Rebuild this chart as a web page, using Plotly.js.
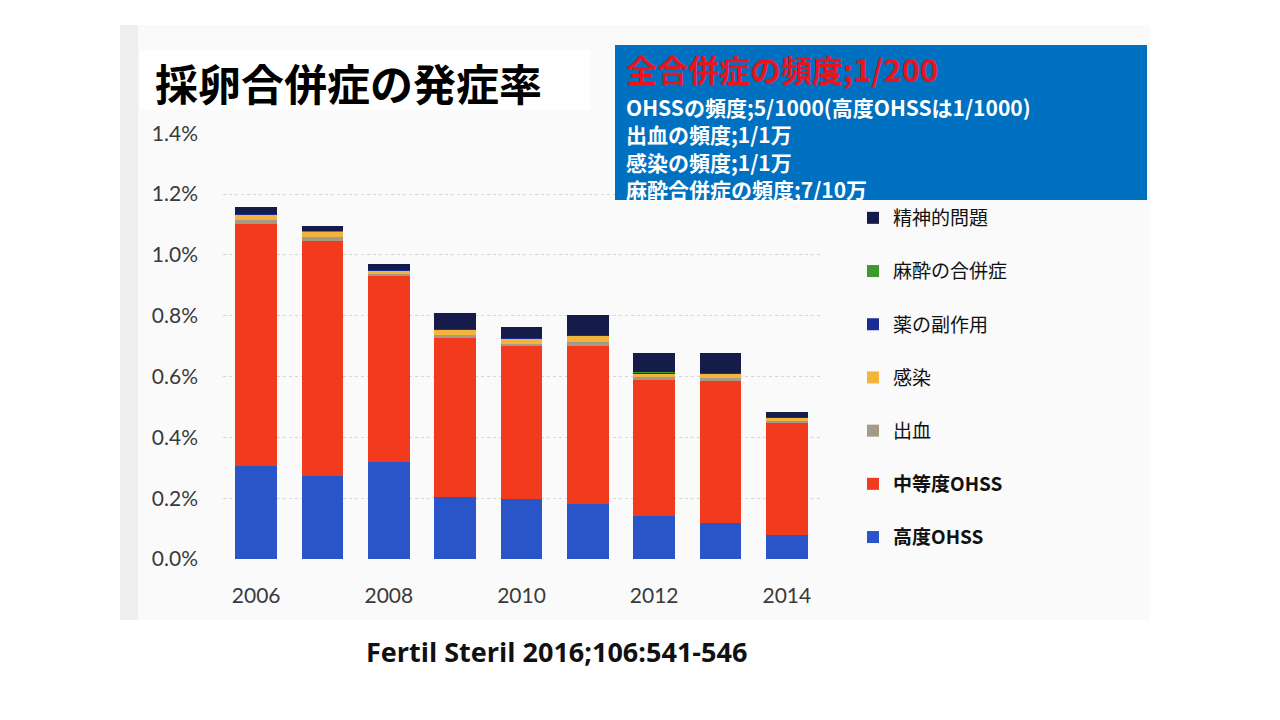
<!DOCTYPE html>
<html>
<head>
<meta charset="utf-8">
<script src="https://cdn.plot.ly/plotly-3.0.1.min.js"></script>
<style>html,body{margin:0;padding:0;background:#fff;}#chart{width:1280px;height:720px;}</style>
</head>
<body>
<div id="chart"></div>
<script>
// Data (percent of retrievals)
const years = [2006, 2007, 2008, 2009, 2010, 2011, 2012, 2013, 2014];
const severeOHSS   = [0.305, 0.273, 0.319, 0.204, 0.197, 0.181, 0.141, 0.118, 0.079];
const moderateOHSS = [0.797, 0.773, 0.611, 0.523, 0.503, 0.519, 0.448, 0.467, 0.368];
const bleeding     = [0.013, 0.013, 0.007, 0.010, 0.008, 0.013, 0.010, 0.010, 0.007];
const infection    = [0.015, 0.016, 0.010, 0.016, 0.016, 0.020, 0.010, 0.013, 0.010];
const drugEffects  = [0.003, 0.002, 0.002, 0.003, 0.002, 0.003, 0.003, 0.003, 0.002];
const anesthesia   = [0.002, 0.002, 0.001, 0.002, 0.002, 0.002, 0.002, 0.002, 0.001];
const psychiatric  = [0.023, 0.016, 0.020, 0.051, 0.035, 0.065, 0.064, 0.065, 0.017];
const seriesNames = ['<b>高度OHSS</b>', '<b>中等度OHSS</b>', '出血', '感染', '薬の副作用', '麻酔の合併症', '精神的問題'];
const seriesValues = [severeOHSS, moderateOHSS, bleeding, infection, drugEffects, anesthesia, psychiatric];
const seriesColors = ['#2a55c8', '#f23a1c', '#a69a86', '#f2b43c', '#1c2a96', '#3c9a2c', '#151c4a'];
const tickYears = [2006, 2008, 2010, 2012, 2014];
const yTicks = [0, 0.2, 0.4, 0.6, 0.8, 1.0, 1.2, 1.4];
const yTickText = yTicks.map(v => v.toFixed(1) + '%');
const summaryHeadline = '全合併症の頻度;1/200';
const summaryLines = ['OHSSの頻度;5/1000(高度OHSSは1/1000)', '出血の頻度;1/1万', '感染の頻度;1/1万', '麻酔合併症の頻度;7/10万'];

const traces = seriesValues.map((vals, i) => ({
  type: 'bar',
  x: years,
  y: vals,
  name: seriesNames[i],
  legendgroup: 'g' + i,
  legendrank: 1000 - i,
  marker: {color: seriesColors[i], line: {width: 0}},
  hoverinfo: 'skip'
}));

const W = 1280, H = 720;
const layout = {
  width: W, height: H,
  autosize: false,
  margin: {l: 0, r: 0, t: 0, b: 0, pad: 0},
  paper_bgcolor: '#ffffff',
  plot_bgcolor: 'rgba(0,0,0,0)',
  barmode: 'stack',
  bargap: 0.37,
  showlegend: true,
  legend: {
    x: 853 / W, y: 1 - 199 / H, xanchor: 'left', yanchor: 'top',
    traceorder: 'grouped',
    tracegroupgap: 25.5,
    bgcolor: 'rgba(0,0,0,0)',
    font: {family: 'Noto Sans CJK JP', size: 19, color: '#111'}
  },
  xaxis: {
    domain: [223 / W, 820 / W],
    range: [2005.5, 2014.5],
    tickmode: 'array',
    tickvals: tickYears,
    ticktext: tickYears.map(String),
    ticks: '',
    ticklabelstandoff: 22,
    showline: false,
    showgrid: false,
    zeroline: false,
    tickfont: {family: 'Lato', size: 21, color: '#3a3a3a'}
  },
  yaxis: {
    domain: [1 - 559 / H, 1 - 133 / H],
    range: [0, 1.401],
    tickmode: 'array',
    tickvals: yTicks,
    ticktext: yTickText,
    ticks: '',
    ticklabelstandoff: 24,
    showline: false,
    showgrid: true,
    gridcolor: '#d6d6d6',
    griddash: 'dot',
    gridwidth: 1,
    zeroline: false,
    tickfont: {family: 'Lato', size: 21, color: '#3a3a3a'}
  },
  shapes: [
    {type: 'rect', xref: 'paper', yref: 'paper', layer: 'below',
     x0: 120 / W, x1: 1150 / W, y0: 1 - 620 / H, y1: 1 - 25 / H,
     fillcolor: '#fafafa', line: {width: 0}},
    {type: 'rect', xref: 'paper', yref: 'paper', layer: 'below',
     x0: 120 / W, x1: 138 / W, y0: 1 - 620 / H, y1: 1 - 25 / H,
     fillcolor: '#eeeeee', line: {width: 0}},
    {type: 'rect', xref: 'paper', yref: 'paper', layer: 'above',
     x0: 140 / W, x1: 590 / W, y0: 1 - 110 / H, y1: 1 - 50 / H,
     fillcolor: '#ffffff', line: {width: 0}},
    {type: 'rect', xref: 'paper', yref: 'paper', layer: 'above',
     x0: 615 / W, x1: 1147 / W, y0: 1 - 200 / H, y1: 1 - 45 / H,
     fillcolor: '#0070c0', line: {width: 0}}
  ],
  annotations: [
    {xref: 'paper', yref: 'paper', x: 153 / W, y: 1 - 82 / H, xanchor: 'left', yanchor: 'middle',
     showarrow: false, text: '<b>採卵合併症の発症率</b>',
     font: {family: 'Noto Sans CJK JP', size: 43, color: '#000'}},
    {xref: 'paper', yref: 'paper', x: 624 / W, y: 1 - 68 / H, xanchor: 'left', yanchor: 'middle',
     showarrow: false, text: '<b>' + summaryHeadline + '</b>',
     font: {family: 'Noto Sans CJK JP', size: 31, color: '#e8141e'}},
    {xref: 'paper', yref: 'paper', x: 624 / W, y: 1 - 148 / H, xanchor: 'left', yanchor: 'middle',
     showarrow: false, align: 'left', text: '<b>' + summaryLines.join('<br>') + '</b>',
     font: {family: 'Noto Sans CJK JP', size: 21, color: '#ffffff'}},
    {xref: 'paper', yref: 'paper', x: 556 / W, y: 1 - 651 / H, xanchor: 'center', yanchor: 'middle',
     showarrow: false, text: '<b>Fertil Steril 2016;106:541-546</b>',
     font: {family: 'Open Sans', size: 27, color: '#111'}}
  ]
};

Plotly.newPlot('chart', traces, layout, {staticPlot: true, displayModeBar: false});
</script>
</body>
</html>
